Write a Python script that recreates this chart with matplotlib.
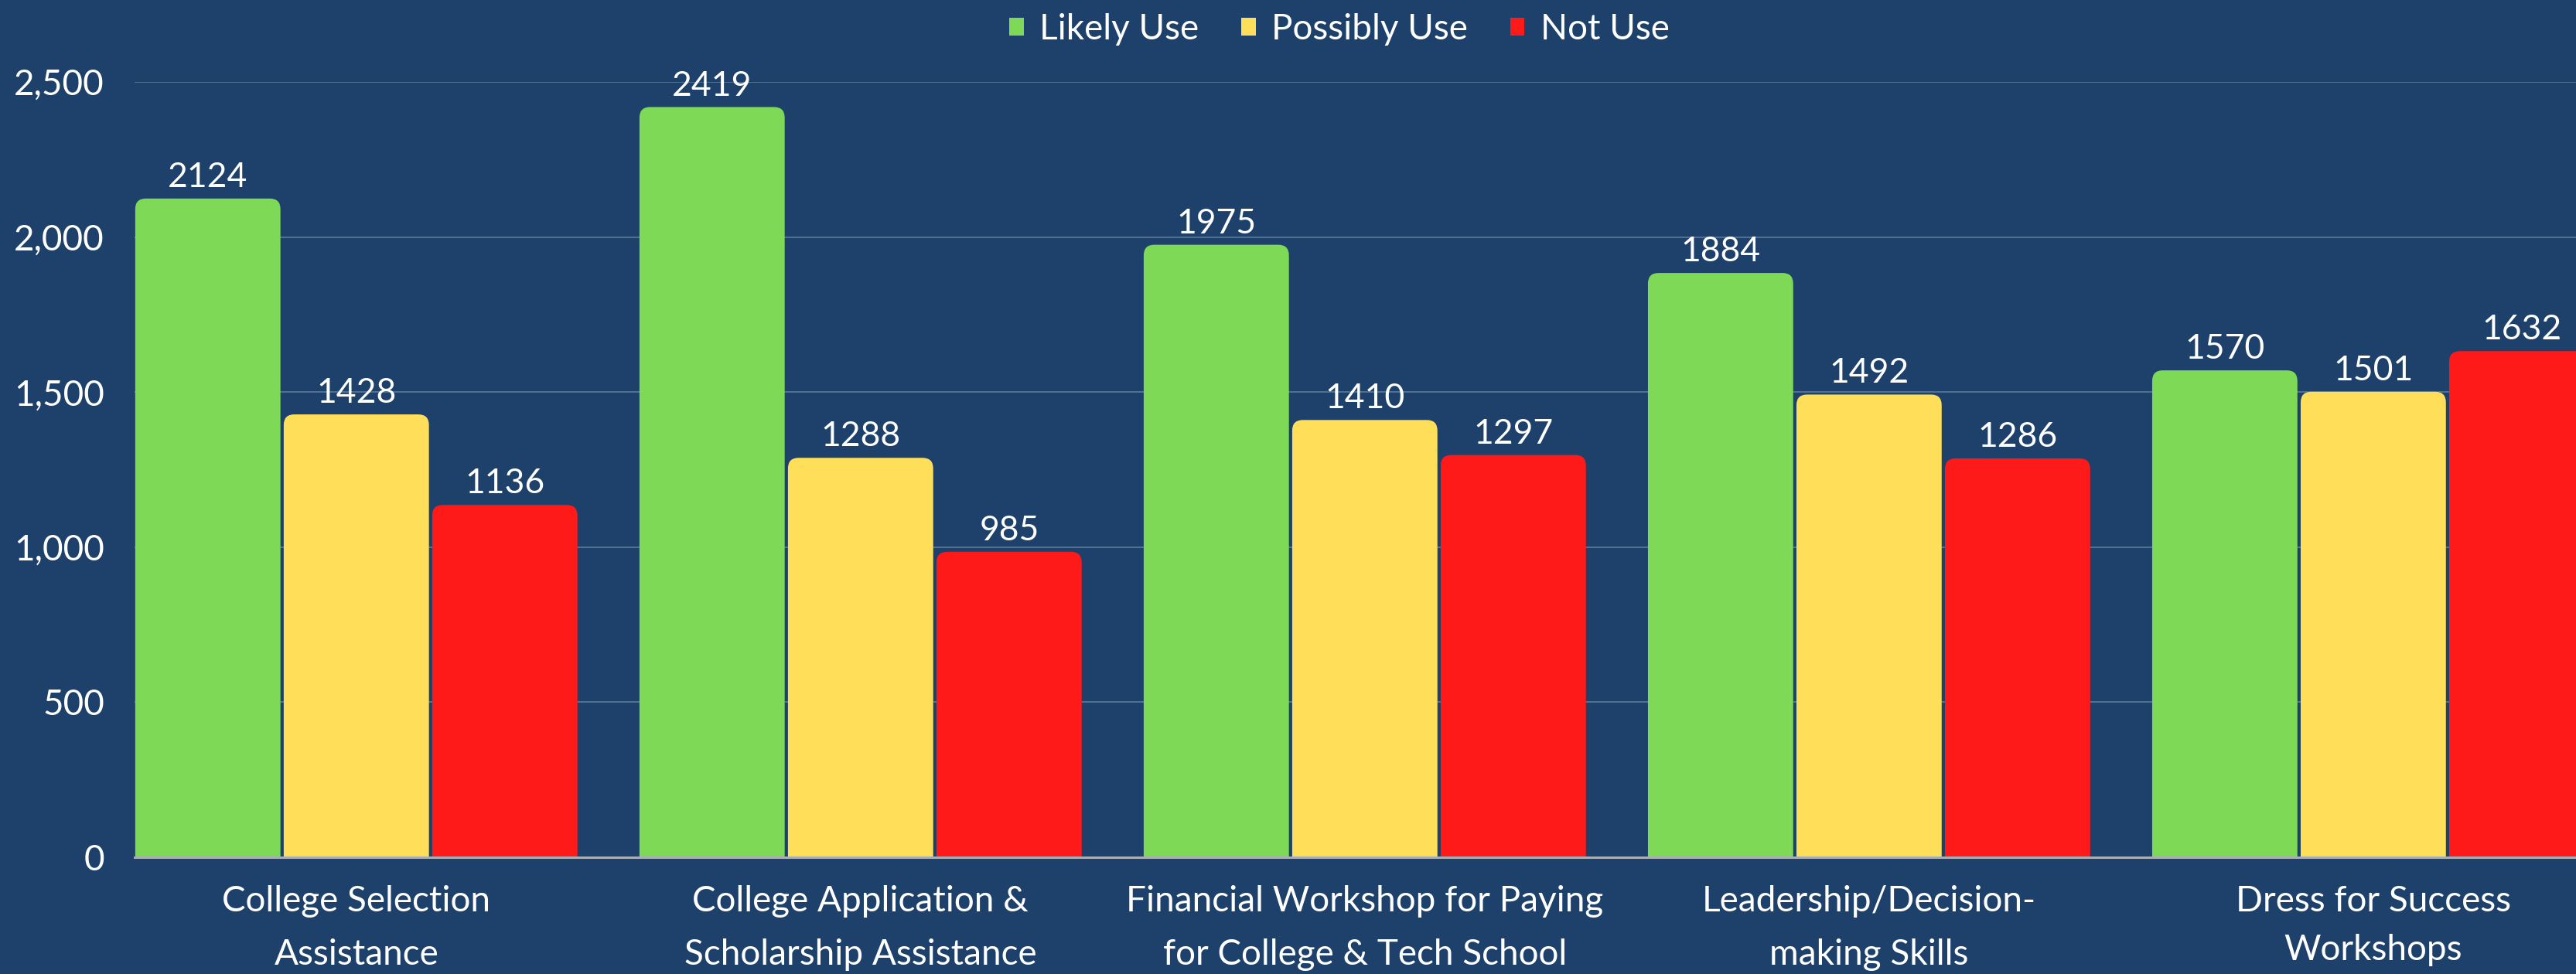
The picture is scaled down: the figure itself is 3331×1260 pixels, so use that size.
import matplotlib
matplotlib.use("Agg")
import matplotlib.pyplot as plt
from matplotlib.patches import FancyBboxPatch
import numpy as np

categories = [
    "College Selection\nAssistance",
    "College Application &\nScholarship Assistance",
    "Financial Workshop for Paying\nfor College & Tech School",
    "Leadership/Decision-\nmaking Skills",
    "Dress for Success\nWorkshops",
]
series_names = ["Likely Use", "Possibly Use", "Not Use"]
likely_use = [2124, 2419, 1975, 1884, 1570]
possibly_use = [1428, 1288, 1410, 1492, 1501]
not_use = [1136, 985, 1297, 1286, 1632]
yticks = [0, 500, 1000, 1500, 2000, 2500]

BG = "#1D416A"
COLORS = ["#7ED957", "#FFDE59", "#FF1A1A"]
GRID = "#4F6F93"
AXIS = "#A7AEB6"
FONT = ["Lato", "Open Sans", "DejaVu Sans"]

plt.rcParams["font.family"] = FONT
plt.rcParams["font.weight"] = "normal"

fig = plt.figure(figsize=(33.31, 12.60), dpi=100, facecolor=BG)
ax = fig.add_axes([0.0522, 0.1198, 0.9478, 0.7961], facecolor=BG)

x = np.arange(len(categories))
pitch = 0.2945
width = 0.288
series = [likely_use, possibly_use, not_use]

ax.set_xlim(-0.44, 4.402)
ax.set_ylim(0, 2500)

# pixel->data aspect for rounded corners
px_x = 4.842 / 3157.0
px_y = 2500 / 1003.0
aspect = px_y / px_x

handles = []
for i, (vals, name, col) in enumerate(zip(series, series_names, COLORS)):
    bars = ax.bar(x + (i - 1) * pitch, vals, width, color=col, label=name, zorder=3)
    for r in bars:
        r.set_alpha(0.0)
        bx, by = r.get_x(), r.get_y()
        bw, bh = r.get_width(), r.get_height()
        extra = 60
        p = FancyBboxPatch((bx, by - extra), bw, bh + extra,
                           boxstyle="round,pad=0,rounding_size=0.021",
                           mutation_aspect=aspect, facecolor=col,
                           edgecolor="none", zorder=3, clip_on=True)
        ax.add_patch(p)
    ax.bar_label(bars, labels=[str(v) for v in vals], padding=5,
                 color="white", fontsize=32, zorder=4)
    handles.append(plt.Rectangle((0, 0), 1, 1, facecolor=col, edgecolor="none"))

ax.set_yticks(yticks)
ax.set_yticklabels([f"{v:,}" for v in yticks])
ax.set_xticks(x)
ax.set_xticklabels(categories)
ax.tick_params(axis="y", length=0, pad=28, labelsize=33, labelcolor="white")
ax.tick_params(axis="x", length=0, pad=26, labelsize=33, labelcolor="white")
for j, lbl in enumerate(ax.get_xticklabels()):
    lbl.set_linespacing(1.6 if j == len(categories) - 1 else 1.78)

ax.grid(axis="y", color=GRID, linewidth=1.5, zorder=0)
ax.set_axisbelow(True)
for s in ["top", "right", "left"]:
    ax.spines[s].set_visible(False)
ax.spines["bottom"].set_color(AXIS)
ax.spines["bottom"].set_linewidth(2.2)
ax.spines["bottom"].set_zorder(5)

leg = fig.legend(handles, series_names, loc="center", bbox_to_anchor=(0.520, 0.970),
                 ncol=3, frameon=False, fontsize=33, handlelength=0.4,
                 handleheight=0.4, handletextpad=0.45, columnspacing=1.2)
for t in leg.get_texts():
    t.set_color("white")

fig.savefig("out.png", dpi=100, facecolor=BG)
